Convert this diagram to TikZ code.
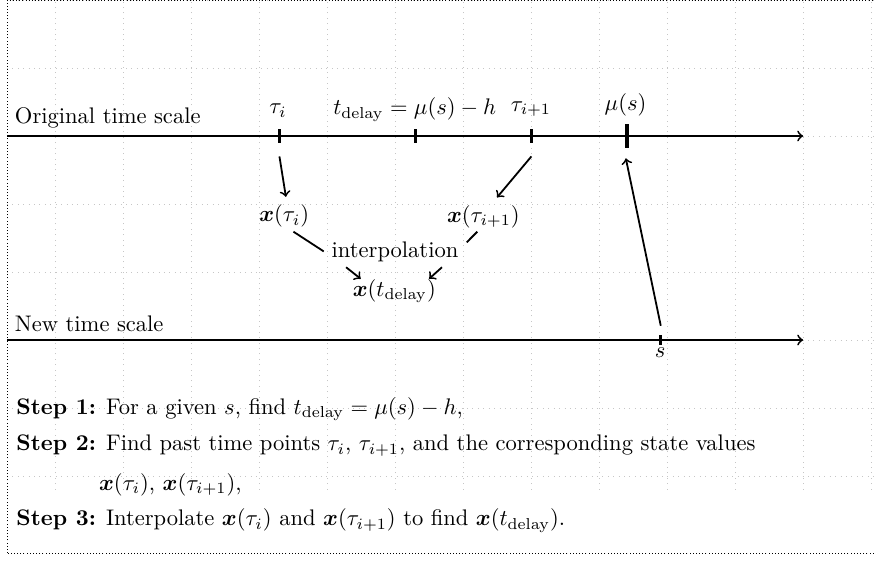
\documentclass[tikz,border=0pt]{standalone}
\usepackage{amsmath,bm}
\begin{document}
\begin{tikzpicture}[scale=1.0597,
  gridline/.style={gray!45,dotted},
  framebox/.style={black,densely dotted,line width=0.4pt},
  axisline/.style={thick,->},
  tickmark/.style={line width=1.3pt},
  bigtick/.style={line width=1.8pt},
  smalltick/.style={line width=1.3pt},
  conn/.style={thick,->},
  plainline/.style={thick},
  lbl/.style={anchor=base,inner sep=0pt},
  steptext/.style={anchor=base west,inner sep=0pt},
]
\useasboundingbox (-0.809,-6.279) rectangle (12.044,2);
% grid and frame
\draw[gridline] (-0.706,-5.2) grid (12.044,2);
\draw[framebox] (-0.706,-6.132) rectangle (12.3,2);

% axes
\coordinate (o1) at (-0.706,0);
\coordinate (o2) at (11,0);
\coordinate (n1) at (-0.706,-3);
\coordinate (n2) at (11,-3);
\draw[axisline] (o1) -- (o2);
\draw[axisline] (n1) -- (n2);
\node[anchor=south west] (origL) at (o1) {Original time scale};
\node[anchor=south west] (newL) at (n1) {New time scale};

% ticks
\draw[tickmark] (3.3,0.1) -- (3.3,-0.1);
\draw[tickmark] (5.304,0.1) -- (5.304,-0.1);
\draw[tickmark] (7.005,0.1) -- (7.005,-0.1);
\draw[bigtick] (8.407,0.172) -- (8.407,-0.172);
\draw[smalltick] (8.9,-2.93) -- (8.9,-3.07);

% tick labels
\node[lbl] (tauiL) at (3.28,0.324) {$\tau_i$};
\node[lbl] (tdL) at (5.29,0.309) {$t_{\mathrm{delay}} = \mu(s) - h$};
\node[lbl] (taui1L) at (7.0,0.36) {$\tau_{i+1}$};
\node[lbl] (muL) at (8.39,0.375) {$\mu(s)$};
\node[lbl] (sL) at (8.9,-3.26) {$s$};

% middle nodes
\node[anchor=base] (xti) at (3.37,-1.26) {$\bm{x}(\tau_i)$};
\node[anchor=base] (xti1) at (6.30,-1.27) {$\bm{x}(\tau_{i+1})$};
\node[anchor=base] (interp) at (5.0,-1.78) {interpolation};
\node[anchor=base] (xtd) at (4.99,-2.36) {$\bm{x}(t_{\mathrm{delay}})$};

% connectors
\coordinate (a1) at (3.30,-0.30);
\coordinate (a2) at (7.005,-0.30);
\draw[conn] (a1) -- (xti.85);
\draw[conn] (a2) -- (xti1.55);
\coordinate (l1) at (3.506,-1.407);
\draw[plainline] (l1) -- (interp.west);
\coordinate (r1) at (6.21,-1.406);
\coordinate (r2) at (6.054,-1.563);
\draw[plainline] (r1) -- (r2);
\coordinate (p1) at (4.28,-1.93);
\coordinate (p2) at (4.495,-2.10);
\coordinate (q1) at (5.69,-1.93);
\coordinate (q2) at (5.50,-2.10);
\draw[conn] (p1) -- (p2);
\draw[conn] (q1) -- (q2);
\coordinate (sb) at (8.907,-2.79);
\coordinate (mt) at (8.393,-0.328);
\draw[conn] (sb) -- (mt);

% steps
\node[steptext] (s1) at (-0.574,-4.093) {\textbf{Step 1:} For a given $s$, find $t_{\mathrm{delay}} = \mu(s) - h$,};
\node[steptext] (s2) at (-0.574,-4.632) {\textbf{Step 2:} Find past time points $\tau_i$, $\tau_{i+1}$, and the corresponding state values};
\node[steptext] (s2b) at (0.642,-5.206) {$\bm{x}(\tau_i)$, $\bm{x}(\tau_{i+1})$,};
\node[steptext] (s3) at (-0.574,-5.735) {\textbf{Step 3:} Interpolate $\bm{x}(\tau_i)$ and $\bm{x}(\tau_{i+1})$ to find $\bm{x}(t_{\mathrm{delay}})$.};
\end{tikzpicture}
\end{document}
